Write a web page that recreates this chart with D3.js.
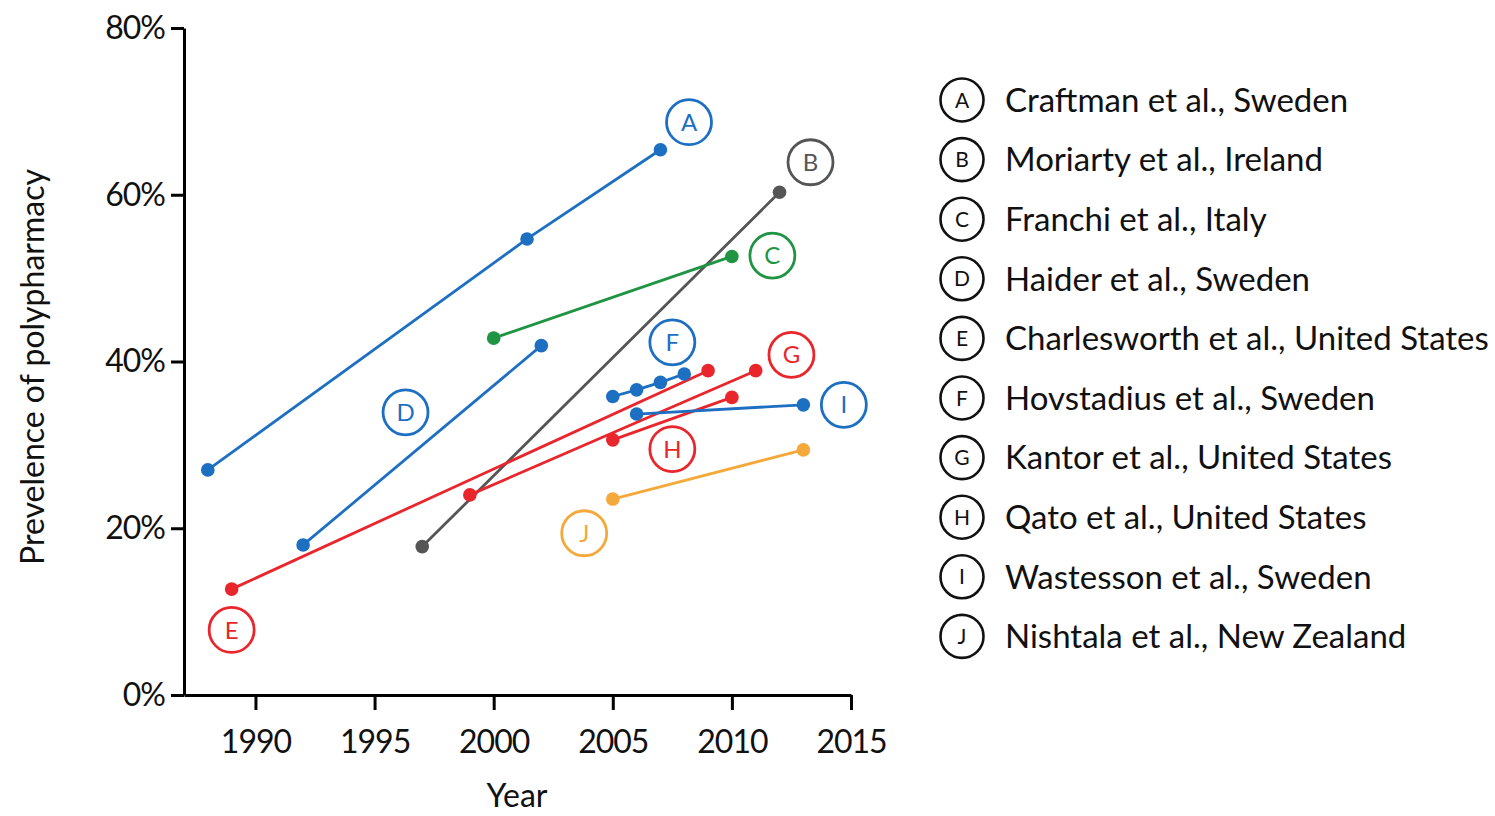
<!DOCTYPE html>
<html>
<head>
<meta charset="utf-8">
<script src="https://cdn.jsdelivr.net/npm/d3@7"></script>
<style>
  body { margin: 0; background: #fff; }
  svg { font-family: Lato, "Open Sans", sans-serif; }
</style>
</head>
<body>
<svg id="chart" width="1495" height="816"></svg>
<script>
// Study labels and names
const letters = ["A", "B", "C", "D", "E", "F", "G", "H", "I", "J"];
const studyNames = [
    "Craftman et al., Sweden",
    "Moriarty et al., Ireland",
    "Franchi et al., Italy",
    "Haider et al., Sweden",
    "Charlesworth et al., United States",
    "Hovstadius et al., Sweden",
    "Kantor et al., United States",
    "Qato et al., United States",
    "Wastesson et al., Sweden",
    "Nishtala et al., New Zealand"
];

// Survey years and prevalence (%) per study
const studyYears = [
    [1988, 2001.4, 2007],
    [1997, 2012],
    [2000, 2010],
    [1992, 2002],
    [1989, 2009],
    [2005, 2006, 2007, 2008],
    [1999, 2011],
    [2005, 2010],
    [2006, 2013],
    [2005, 2013]
];
const studyValues = [
    [27.0, 54.7, 65.4],
    [17.8, 60.3],
    [42.8, 52.6],
    [18.0, 41.9],
    [12.7, 38.9],
    [35.8, 36.6, 37.5, 38.5],
    [24.0, 38.9],
    [30.6, 35.7],
    [33.7, 34.8],
    [23.5, 29.4]
];

// Where each lettered badge sits on the chart (year, %)
const badgeYears = [2008.2, 2013.3, 2011.7, 1996.3, 1989.0, 2007.5, 2012.5, 2007.5, 2014.7, 2003.8];
const badgeValues = [68.7, 63.9, 52.7, 33.9, 7.8, 42.3, 40.8, 29.5, 34.8, 19.4];

const yTicks = [0, 20, 40, 60, 80];
const xTicks = [1990, 1995, 2000, 2005, 2010, 2015];

const colors = ["#1d6fc2", "#555555", "#1f9442", "#1d6fc2", "#e8262c",
                "#1d6fc2", "#e8262c", "#e8262c", "#1d6fc2", "#f4a93a"];

const svg = d3.select("#chart");

const xScale = d3.scaleLinear().domain([1987, 2015]).range([184, 851]);
const yScale = d3.scaleLinear().domain([0, 80]).range([695, 28]);

// Axes
const yAxis = svg.append("g")
    .attr("transform", "translate(184,0)")
    .call(d3.axisLeft(yScale).tickValues(yTicks).tickSize(13).tickSizeOuter(0)
        .tickPadding(6).tickFormat(d => d + "%"));

const xAxis = svg.append("g")
    .attr("transform", "translate(0,695)")
    .call(d3.axisBottom(xScale).tickValues(xTicks).tickSize(15).tickSizeOuter(0)
        .tickPadding(20).tickFormat(d3.format("d")));

[yAxis, xAxis].forEach(ax => {
    ax.select(".domain").attr("stroke-width", 3);
    ax.selectAll(".tick line").attr("stroke-width", 3);
    ax.selectAll(".tick text")
        .attr("font-size", 32)
        .attr("fill", "#111")
        .style("font-family", "Lato, sans-serif");
});
yAxis.selectAll(".tick text").attr("letter-spacing", -1);
xAxis.selectAll(".tick text").attr("letter-spacing", -1);

// Axis titles
svg.append("text")
    .attr("x", 517)
    .attr("y", 807)
    .attr("text-anchor", "middle")
    .attr("font-size", 32)
    .attr("fill", "#111")
    .text("Year");

svg.append("text")
    .attr("transform", "translate(44,367) rotate(-90)")
    .attr("text-anchor", "middle")
    .attr("font-size", 32)
    .attr("fill", "#111")
    .text("Prevelence of polypharmacy");

// Study lines and points
const line = d3.line()
    .x(d => xScale(d[0]))
    .y(d => yScale(d[1]));

letters.forEach((letter, i) => {
    const pts = studyYears[i].map((yr, j) => [yr, studyValues[i][j]]);
    const g = svg.append("g");
    g.append("path")
        .attr("d", line(pts))
        .attr("fill", "none")
        .attr("stroke", colors[i])
        .attr("stroke-width", 2.8);
    g.selectAll("circle")
        .data(pts)
        .enter()
        .append("circle")
        .attr("cx", d => xScale(d[0]))
        .attr("cy", d => yScale(d[1]))
        .attr("r", 6.8)
        .attr("fill", colors[i]);
});

// Lettered badges
letters.forEach((letter, i) => {
    const cx = xScale(badgeYears[i]);
    const cy = yScale(badgeValues[i]);
    svg.append("circle")
        .attr("cx", cx)
        .attr("cy", cy)
        .attr("r", 22.5)
        .attr("fill", "#fff")
        .attr("stroke", colors[i])
        .attr("stroke-width", 2.8);
    svg.append("text")
        .attr("x", cx)
        .attr("y", cy)
        .attr("dy", "0.36em")
        .attr("text-anchor", "middle")
        .attr("font-size", 24)
        .attr("fill", colors[i])
        .text(letter);
});

// Legend
const legend = svg.append("g").attr("transform", "translate(962,100)");
letters.forEach((letter, i) => {
    const row = legend.append("g").attr("transform", `translate(0,${i * 59.6})`);
    row.append("circle")
        .attr("r", 21.5)
        .attr("fill", "#fff")
        .attr("stroke", "#111")
        .attr("stroke-width", 2.6);
    row.append("text")
        .attr("dy", "0.36em")
        .attr("text-anchor", "middle")
        .attr("font-size", 21)
        .attr("fill", "#111")
        .text(letter);
    row.append("text")
        .attr("x", 43)
        .attr("dy", "0.36em")
        .attr("font-size", 33)
        .attr("fill", "#111")
        .text(studyNames[i]);
});
</script>
</body>
</html>
